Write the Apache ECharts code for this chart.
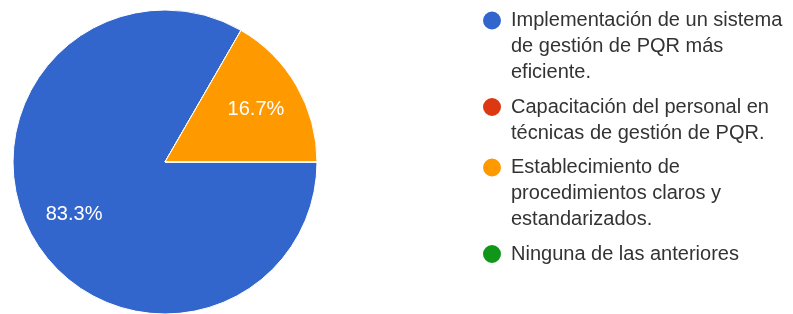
<!DOCTYPE html>
<html>
<head>
<meta charset="utf-8">
<script src="https://cdn.jsdelivr.net/npm/echarts@6/dist/echarts.min.js"></script>
<style>
  html, body { margin: 0; background: #fff; }
  #chart { width: 793px; height: 314px; }
</style>
</head>
<body>
<div id="chart"></div>
<script>
const categories = [
  'Implementación de un sistema de gestión de PQR más eficiente.',
  'Capacitación del personal en técnicas de gestión de PQR.',
  'Establecimiento de procedimientos claros y estandarizados.',
  'Ninguna de las anteriores'
];
const legendText = [
  'Implementación de un sistema\nde gestión de PQR más\neficiente.',
  'Capacitación del personal en\ntécnicas de gestión de PQR.',
  'Establecimiento de\nprocedimientos claros y\nestandarizados.',
  'Ninguna de las anteriores'
];
const responses = [5, 0, 1, 0];
const colors = ['#3366cc', '#dc3912', '#ff9900', '#109618'];

const FONT = 'Arial, "Liberation Sans", sans-serif';
const LINE = 26;
const GAP = 8.5;
const DOT_R = 10;
const ICON_W = 24;

const pieData = categories.map((name, i) => ({ name, value: responses[i] }));

// dot drawn at the top of a box as tall as the text, so it lines up with line one
const dotIcon = (h) => {
  const cy = LINE / 2;
  return `path://M0,0 M${ICON_W},${h} M0,${cy} A${DOT_R},${DOT_R} 0 1,1 ${2 * DOT_R},${cy} ` +
    `A${DOT_R},${DOT_R} 0 1,1 0,${cy} Z`;
};

let dotY = 19.5;
const legends = categories.map((name, i) => {
  const lines = legendText[i].split('\n').length;
  const h = lines * LINE;
  const top = dotY - LINE / 2;
  dotY += h + GAP;
  return {
    data: [name],
    orient: 'vertical',
    left: 481,
    top,
    padding: 0,
    icon: dotIcon(h),
    itemWidth: ICON_W,
    itemHeight: h,
    selectedMode: false,
    formatter: () => legendText[i],
    textStyle: {
      fontFamily: FONT,
      fontSize: 20,
      color: '#333',
      lineHeight: LINE
    }
  };
});

const chart = echarts.init(document.getElementById('chart'), null, { renderer: 'canvas' });
chart.setOption({
  animation: false,
  backgroundColor: '#fff',
  color: colors,
  legend: legends,
  series: [
    {
      type: 'pie',
      center: [165, 162],
      radius: 152,
      startAngle: 0,
      clockwise: true,
      silent: true,
      data: pieData,
      label: { show: false },
      labelLine: { show: false },
      itemStyle: { borderColor: '#fff', borderWidth: 1 }
    },
    {
      // label ring: puts the percentages about two thirds out from the centre
      type: 'pie',
      center: [165, 162],
      radius: [52, 152],
      startAngle: 0,
      clockwise: true,
      silent: true,
      data: pieData,
      itemStyle: { color: 'transparent', borderWidth: 0 },
      labelLine: { show: false },
      label: {
        position: 'inside',
        color: '#fff',
        fontFamily: FONT,
        fontSize: 20,
        formatter: (p) => (p.value ? `${p.percent.toFixed(1)}%` : '')
      }
    }
  ]
});
</script>
</body>
</html>
